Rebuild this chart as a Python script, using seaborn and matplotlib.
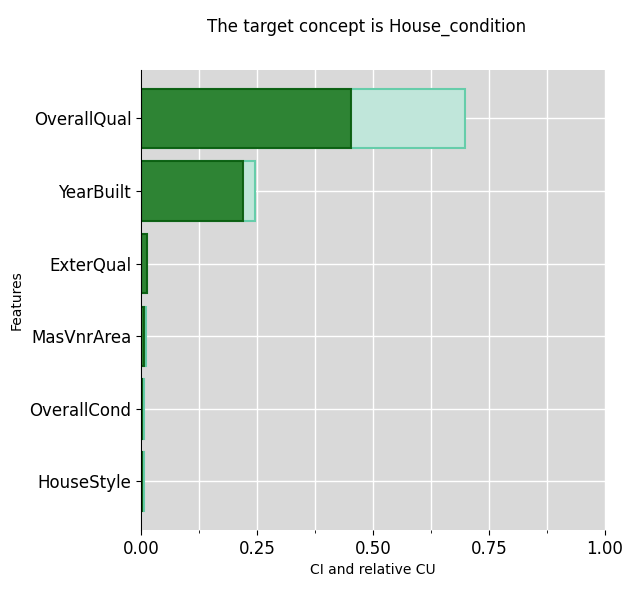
import numpy as np
import pandas as pd
import matplotlib
matplotlib.use("Agg")
import matplotlib.pyplot as plt
import seaborn as sns
from matplotlib.ticker import MultipleLocator

features = ["OverallQual", "YearBuilt", "ExterQual", "MasVnrArea", "OverallCond", "HouseStyle"]
ci = [0.453, 0.220, 0.012, 0.006, 0.003, 0.003]
cu = [0.698, 0.245, 0.012, 0.010, 0.007, 0.007]

df = pd.DataFrame({"Features": features, "CI": ci, "CU": cu})

fig = plt.figure(figsize=(6.34, 5.89), dpi=100)
ax = fig.add_axes([0.2224, 0.1002, 0.7319, 0.7810])
ax.set_facecolor("#d9d9d9")
ax.set_axisbelow(True)

sns.barplot(data=df, x="CU", y="Features", ax=ax, color="#c0e6da", edgecolor="#66cdaa",
            linewidth=1.5, saturation=1, width=0.82)
sns.barplot(data=df, x="CI", y="Features", ax=ax, color="#267f2b", edgecolor="#0b5e10",
            linewidth=1.5, saturation=1, width=0.82, alpha=0.95)

ax.set_xlim(0, 1)
ax.set_ylim(5.668, -0.668)
ax.xaxis.set_major_locator(MultipleLocator(0.25))
ax.xaxis.set_minor_locator(MultipleLocator(0.125))
ax.grid(True, which="both", color="white", linewidth=1)
ax.tick_params(axis="both", labelsize=12)
for s in ["top", "right", "bottom"]:
    ax.spines[s].set_visible(False)
ax.spines["left"].set_color("black")
ax.set_xlabel("CI and relative CU")
ax.set_ylabel("Features")
fig.text(0.578, 0.97, "The target concept is House_condition", fontsize=12, ha="center", va="top")
fig.savefig("out.png", dpi=100)
